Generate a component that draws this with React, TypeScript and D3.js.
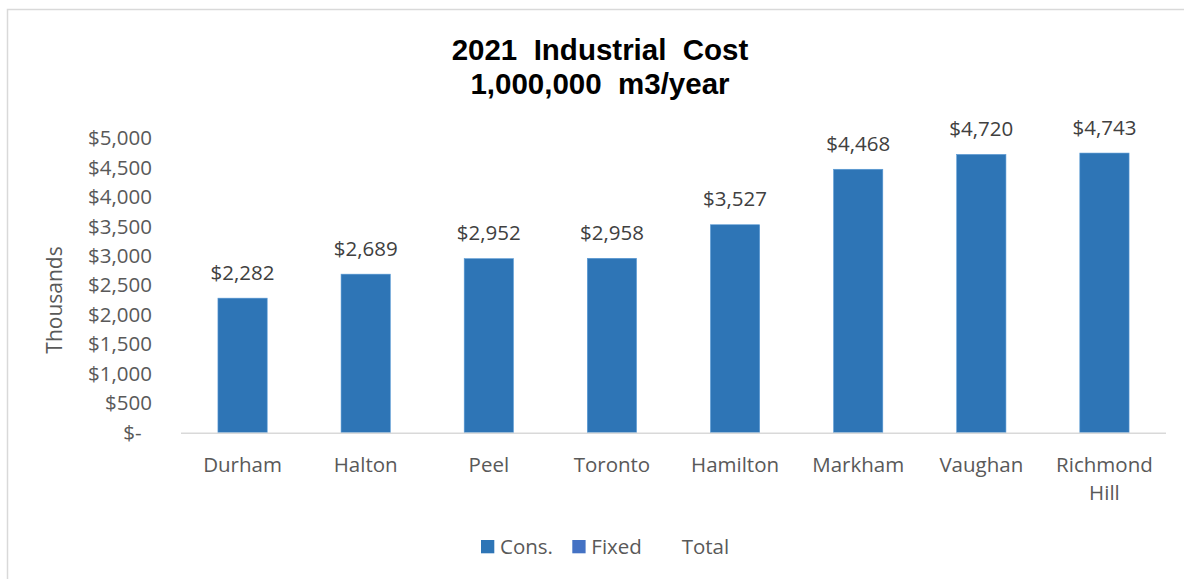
import React from "react";
import * as d3 from "d3";

const categories = ["Durham", "Halton", "Peel", "Toronto", "Hamilton", "Markham", "Vaughan", "Richmond Hill"];
const consValues = [2282, 2689, 2952, 2958, 3527, 4468, 4720, 4743];
const valueLabels = ["$2,282", "$2,689", "$2,952", "$2,958", "$3,527", "$4,468", "$4,720", "$4,743"];
const tickValues = [0, 500, 1000, 1500, 2000, 2500, 3000, 3500, 4000, 4500, 5000];
const tickLabels = ["$-", "$500", "$1,000", "$1,500", "$2,000", "$2,500", "$3,000", "$3,500", "$4,000", "$4,500", "$5,000"];
const legendItems = ["Cons.", "Fixed", "Total"];
const titleLines = ["2021  Industrial  Cost", "1,000,000  m3/year"];
const yAxisTitle = "Thousands";

const W = 1184;
const H = 579;
const plotLeft = 181;
const plotRight = 1166;
const plotTop = 137.9;
const plotBottom = 432.7;
const barColor = "#2E75B6";
const fixedColor = "#4472C4";
const textColor = "#595959";
const font = "'Open Sans', sans-serif";

export default function App() {
  const x = d3.scaleBand<string>().domain(categories).range([plotLeft, plotRight]).paddingInner(0.6).paddingOuter(0.3);
  const y = d3.scaleLinear().domain([0, 5000]).range([plotBottom, plotTop]);
  const bw = x.bandwidth();

  const legendX = [481, 572.3, 681.7];

  return (
    <svg width={W} height={H} style={{ position: "absolute", left: 0, top: 0, background: "#fff" }}>
      <rect x={7.5} y={9.5} width={W + 10} height={H + 10} fill="#fff" stroke="#d9d9d9" strokeWidth={1.5} />
      {titleLines.map((t, i) => (
        <text key={i} x={600} y={60 + i * 33.5} textAnchor="middle" fontFamily="'Liberation Sans', Arial, sans-serif"
          fontWeight="bold" fontSize={29.5} fill="#000" style={{ whiteSpace: "pre" }}>{t}</text>
      ))}
      <text transform={`translate(62,300) rotate(-90)`} textAnchor="middle" fontFamily={font} fontSize={21}
        fill={textColor}>{yAxisTitle}</text>
      {tickValues.map((v, i) => (
        <text key={v} x={v === 0 ? 141.7 : 152} y={y(v)} dy="0.35em" textAnchor="end" fontFamily={font}
          fontSize={20.5} fill={textColor}>{tickLabels[i]}</text>
      ))}
      {categories.map((c, i) => (
        <g key={c}>
          <rect x={x(c)!} y={y(consValues[i])} width={bw} height={plotBottom - y(consValues[i])} fill={barColor}
            stroke="#5B9BD5" strokeWidth={0.6} />
          <text x={x(c)! + bw / 2} y={y(consValues[i]) - 18.5} textAnchor="middle" fontFamily={font} fontSize={20.5}
            fill={"#404040"}>{valueLabels[i]}</text>
          {c.split(" ").map((part, j) => (
            <text key={j} x={x(c)! + bw / 2} y={472 + j * 28} textAnchor="middle" fontFamily={font} fontSize={20.5}
              fill={textColor}>{part}</text>
          ))}
        </g>
      ))}
      <line x1={plotLeft} x2={plotRight} y1={plotBottom + 0.5} y2={plotBottom + 0.5} stroke="#d9d9d9" strokeWidth={1.5} />
      {legendItems.map((l, i) => (
        <g key={l}>
          {i < 2 && <rect x={legendX[i]} y={540} width={13.3} height={13.3} fill={i === 0 ? barColor : fixedColor} />}
          <text x={legendX[i] + (i < 2 ? 19 : 0)} y={547} dy="0.35em" fontFamily={font} fontSize={20.5}
            fill={textColor}>{l}</text>
        </g>
      ))}
    </svg>
  );
}
